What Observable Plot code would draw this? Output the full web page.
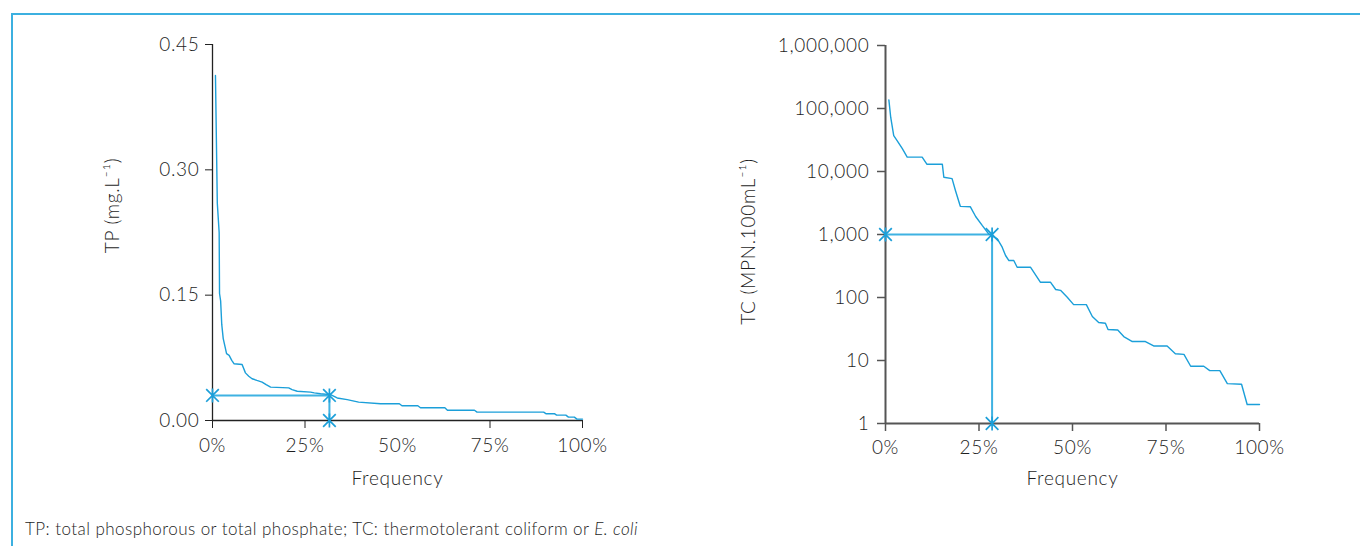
<!DOCTYPE html>
<html>
<head>
<meta charset="utf-8">
<script src="https://cdn.jsdelivr.net/npm/d3@7"></script>
<script src="https://cdn.jsdelivr.net/npm/@observablehq/plot@0.6"></script>
<style>
  html, body { margin: 0; padding: 0; background: #fff; }
  body { width: 1360px; height: 546px; position: relative; overflow: hidden; font-family: Lato, "Open Sans", sans-serif; font-weight: 300; color: #1e1e1e; }
  #frame { position: absolute; left: 11px; top: 13px; width: 1400px; height: 600px; border-top: 2px solid #3cb0e0; border-left: 2px solid #3cb0e0; }
  #left { position: absolute; left: 0; top: 0; }
  #right { position: absolute; left: 680px; top: 0; }
  #caption { position: absolute; left: 25px; top: 518px; font-size: 17px; letter-spacing: 0.45px; white-space: nowrap; }
  svg text { font-weight: 300; letter-spacing: 0.7px; }
</style>
</head>
<body>
<div id="frame"></div>
<div id="left"></div>
<div id="right"></div>
<div id="caption">TP: total phosphorous or total phosphate; TC: thermotolerant coliform or <i>E. coli</i></div>
<script>
// ---- Data ----
const tpFreq = [0.008, 0.013, 0.018, 0.019, 0.022, 0.025, 0.029, 0.034, 0.038, 0.045,
                0.052, 0.058, 0.080, 0.089, 0.098, 0.107, 0.120, 0.134, 0.145, 0.157,
                0.206, 0.215, 0.229, 0.265, 0.275, 0.292, 0.319, 0.337, 0.364, 0.395,
                0.454, 0.505, 0.512, 0.555, 0.562, 0.628, 0.635, 0.708, 0.715, 0.895,
                0.902, 0.925, 0.930, 0.955, 0.962, 0.978, 0.985, 1.0];
const tpValue = [0.413, 0.26, 0.225, 0.152, 0.143, 0.115, 0.098, 0.088, 0.080, 0.078,
                 0.072, 0.068, 0.067, 0.057, 0.053, 0.050, 0.048, 0.046, 0.043, 0.040,
                 0.039, 0.037, 0.035, 0.034, 0.033, 0.032, 0.031, 0.027, 0.025, 0.022,
                 0.020, 0.020, 0.0176, 0.0176, 0.0152, 0.0152, 0.0123, 0.0123, 0.010, 0.010,
                 0.008, 0.008, 0.0064, 0.0064, 0.004, 0.004, 0.0016, 0.0016];
const tpMarkFreq = [0, 0.316, 0.316];
const tpMarkValue = [0.03, 0.03, 0];

const tcFreq = [0.009, 0.014, 0.022, 0.031, 0.045, 0.058, 0.098, 0.111, 0.152, 0.156,
                0.178, 0.187, 0.200, 0.227, 0.241, 0.259, 0.276, 0.299, 0.312, 0.321,
                0.330, 0.343, 0.352, 0.388, 0.414, 0.441, 0.455, 0.468, 0.486, 0.503,
                0.537, 0.553, 0.570, 0.588, 0.595, 0.621, 0.637, 0.660, 0.695, 0.717,
                0.753, 0.775, 0.798, 0.816, 0.851, 0.867, 0.894, 0.914, 0.952, 0.967, 1.0];
const tcValue = [137000, 72000, 37000, 31000, 23000, 16900, 16900, 13000, 13000, 8100,
                 7700, 5000, 2800, 2750, 1930, 1380, 1020, 850, 630, 464,
                 386, 386, 302, 302, 175, 175, 134, 130, 101, 77,
                 77, 50, 40, 39, 31, 30.5, 24, 20, 20, 17,
                 17, 12.8, 12.5, 8.1, 8.1, 6.9, 6.9, 4.3, 4.2, 2.0, 2.0];
const tcMarkFreq = [0, 0.285, 0.285];
const tcMarkValue = [1000, 1000, 1];

const freqTicks = [0, 0.25, 0.5, 0.75, 1];
const tpTicks = [0, 0.15, 0.30, 0.45];
const tcTicks = [1, 10, 100, 1000, 10000, 100000, 1000000];
const tpLabel = "TP (mg.L⁻¹)";
const tcLabel = "TC (MPN.100mL⁻¹)";
const xLabel = "Frequency";

// ---- Build tables ----
const tp = tpFreq.map((f, i) => ({f, v: tpValue[i]}));
const tpMarks = tpMarkFreq.map((f, i) => ({f, v: tpMarkValue[i]}));
const tc = tcFreq.map((f, i) => ({f, v: tcValue[i]}));
const tcMarks = tcMarkFreq.map((f, i) => ({f, v: tcMarkValue[i]}));

const lineColor = "#1b9fd9";
const markColor = "#3fb2e2";
const font = "Lato, 'Open Sans', sans-serif";
const textColor = "#1e1e1e";
const fs = 19;
const pct = d3.format(".0%");

// asterisk symbol: vertical stroke plus an X
const star = {
  draw(ctx, size) {
    const r = Math.sqrt(size / Math.PI);
    const d = r * 0.9;
    ctx.moveTo(0, -r); ctx.lineTo(0, r);
    ctx.moveTo(-d, -d); ctx.lineTo(d, d);
    ctx.moveTo(-d, d); ctx.lineTo(d, -d);
  }
};

const left = Plot.plot({
  width: 680, height: 500,
  marginLeft: 212, marginRight: 98, marginTop: 44, marginBottom: 80,
  x: {domain: [0, 1]},
  y: {domain: [0, 0.45]},
  style: {fontFamily: font, fontSize: fs + "px", color: textColor, background: "transparent", overflow: "visible"},
  marks: [
    Plot.axisY({ticks: tpTicks, tickFormat: d3.format(".2f"), tickSize: 7, tickPadding: 6, label: null, stroke: "#222", fontSize: fs}),
    Plot.axisX({ticks: [0, 0.25, 0.75, 1], tickSize: 8, text: null, label: null, stroke: "#222"}),
    Plot.axisX({ticks: freqTicks, tickSize: 0, tickPadding: 18, tickFormat: pct, label: null, fontSize: fs}),
    Plot.ruleX([0], {stroke: "#222", strokeWidth: 1.3}),
    Plot.ruleY([0], {stroke: "#222", strokeWidth: 1.3}),
    Plot.line(tpMarks, {x: "f", y: "v", stroke: markColor, strokeWidth: 2}),
    Plot.line(tp, {x: "f", y: "v", stroke: lineColor, strokeWidth: 1.4}),
    Plot.dot(tpMarks, {x: "f", y: "v", symbol: star, r: 7, stroke: lineColor, strokeWidth: 1.7}),
    Plot.text([xLabel], {frameAnchor: "bottom", dy: 58, lineAnchor: "middle", textAnchor: "middle", fontSize: fs}),
    Plot.text([tpLabel], {frameAnchor: "left", dx: -100, dy: -27, rotate: -90, lineAnchor: "middle", textAnchor: "middle", fontSize: fs})
  ]
});
document.getElementById("left").appendChild(left);

const right = Plot.plot({
  width: 680, height: 500,
  marginLeft: 205, marginRight: 101, marginTop: 45, marginBottom: 77,
  x: {domain: [0, 1]},
  y: {type: "log", domain: [1, 1e6]},
  style: {fontFamily: font, fontSize: fs + "px", color: textColor, background: "transparent", overflow: "visible"},
  marks: [
    Plot.axisY({ticks: tcTicks, tickFormat: d3.format(","), tickSize: 8, tickPadding: 8, label: null, stroke: "#555", strokeWidth: 1.5, fontSize: fs}),
    Plot.axisX({ticks: freqTicks, tickSize: 8, tickPadding: 9, tickFormat: pct, label: null, stroke: "#555", strokeWidth: 1.5, fontSize: fs}),
    Plot.ruleX([0], {stroke: "#555", strokeWidth: 2}),
    Plot.ruleY([1], {stroke: "#555", strokeWidth: 2}),
    Plot.line(tcMarks, {x: "f", y: "v", stroke: markColor, strokeWidth: 2}),
    Plot.line(tc, {x: "f", y: "v", stroke: lineColor, strokeWidth: 1.4}),
    Plot.dot(tcMarks, {x: "f", y: "v", symbol: star, r: 7, stroke: lineColor, strokeWidth: 1.7}),
    Plot.text([xLabel], {frameAnchor: "bottom", dy: 55, lineAnchor: "middle", textAnchor: "middle", fontSize: fs}),
    Plot.text([tcLabel], {frameAnchor: "left", dx: -137, dy: 7, rotate: -90, lineAnchor: "middle", textAnchor: "middle", fontSize: fs})
  ]
});
document.getElementById("right").appendChild(right);
</script>
</body>
</html>
